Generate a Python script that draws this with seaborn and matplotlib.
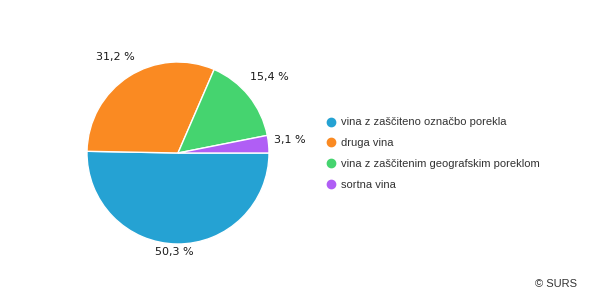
import matplotlib
matplotlib.use("Agg")
import matplotlib.pyplot as plt
from matplotlib.lines import Line2D
import seaborn as sns

categories = ["vina z zaščiteno označbo porekla", "druga vina",
              "vina z zaščitenim geografskim poreklom", "sortna vina"]
values = [50.3, 31.2, 15.4, 3.1]
value_labels = ["50,3 %", "31,2 %", "15,4 %", "3,1 %"]
colors = sns.color_palette(["#25a2d3", "#fa8a22", "#45d46f", "#b05ef5"])

sns.set_style("white")
plt.rcParams["font.family"] = ["DejaVu Sans"]

W, H = 593, 300
fig = plt.figure(figsize=(W / 100, H / 100), dpi=100)
cx, cy, r = 178, 153, 91
ax = fig.add_axes([(cx - r) / W, (H - cy - r) / H, 2 * r / W, 2 * r / H])
wedges, _ = ax.pie(values, colors=colors, startangle=0, counterclock=False,
                   radius=1, wedgeprops=dict(edgecolor="white", linewidth=1))
ax.set_xlim(-1, 1)
ax.set_ylim(-1, 1)
ax.set_aspect("equal")
ax.axis("off")

# label anchor positions (data units, relative to pie radius)
label_pos = [(-0.04, -1.09), (-0.69, 1.05), (1.00, 0.84), (1.23, 0.14)]
for (lx, ly), txt in zip(label_pos, value_labels):
    ax.text(lx, ly, txt, ha="center", va="center", fontsize=8,
            color="#1a1a1a", clip_on=False)

handles = [Line2D([0], [0], marker="o", linestyle="none", markersize=6,
                  markerfacecolor=c, markeredgecolor=c) for c in colors]
leg = fig.legend(handles, categories, loc="upper left",
                 bbox_to_anchor=(327 / W, 1 - 117.5 / H), frameon=False,
                 prop={"family": "Liberation Sans", "size": 8},
                 handlelength=0.8, handletextpad=0.5, labelspacing=0.97,
                 borderpad=0, borderaxespad=0)
for t in leg.get_texts():
    t.set_color("#333333")

fig.text(577 / W, 1 - 284 / H, "© SURS", ha="right", va="center",
         fontsize=8, family="Liberation Sans", color="#333333")

fig.savefig("out.png", dpi=100)
